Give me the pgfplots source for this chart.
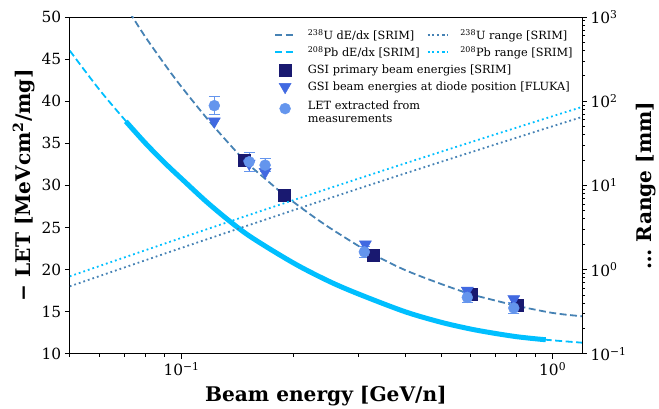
\documentclass[border=0pt]{standalone}
\usepackage{fontspec}
\setmainfont{DejaVu Serif}
\usepackage{pgfplots}
\pgfplotsset{compat=1.18}
\definecolor{steelb}{HTML}{4682B4}
\definecolor{dsky}{HTML}{00BFFF}
\definecolor{mnb}{HTML}{191970}
\definecolor{royb}{HTML}{4169E1}
\definecolor{cfb}{HTML}{6495ED}
\pgfplotsset{
  legend image code/.code={%
    \draw[mark repeat=2,mark phase=2,#1] plot coordinates {(0bp,0bp) (10bp,0bp) (20bp,0bp)};%
  },
}
\begin{document}
\begin{tikzpicture}
\begin{axis}[
  width=514bp, height=338bp, scale only axis,
  xmode=log, xmin=0.05, xmax=1.2,
  tick align=outside,
  major tick length=5bp, minor tick length=3bp,
  tick style={black, line width=0.8bp},
  axis line style={line width=0.8bp},
  tick label style={font=\fontsize{15.5}{18}\selectfont},
  label style={font=\fontsize{20.3}{24}\selectfont\bfseries},
  /pgf/number format/assume math mode=true,
  legend style={draw=none, fill=none, font=\fontsize{11.4}{13.5}\selectfont,
    cells={anchor=west}, row sep=6bp, inner sep=0pt,
    nodes={inner sep=0pt},
    /tikz/every odd column/.style={column sep=12bp}},
  ymin=10, ymax=50, ytick={10,15,20,25,30,35,40,45,50},
  xtick={0.1,1}, xticklabels={10\textsuperscript{−1},10\textsuperscript{0}},
  minor xtick={0.05,0.06,0.07,0.08,0.09,0.2,0.3,0.4,0.5,0.6,0.7,0.8,0.9},
  xtick pos=bottom, ytick pos=left,
  xlabel={Beam energy [GeV/n]},
  ylabel={− LET [MeVcm\textsuperscript{2}/mg]},
  xlabel style={at={(axis description cs:0.5,0)}, anchor=center, yshift=-42bp},
  ylabel style={at={(axis description cs:-0.0895,0.5)}, anchor=center},
  legend style={at={(0.3988,0.964)}, anchor=north west},
]
\addplot[steelb, line width=1.8bp, dash pattern=on 7bp off 3.5bp, smooth] table {
0.070 51.6
0.0738 50.0
0.08 47.6
0.09 44.4
0.10 41.7
0.12 37.4
0.1476 33.0
0.17 30.6
0.19 28.8
0.22 26.7
0.25 25.0
0.30 22.8
0.33 21.75
0.40 19.95
0.50 18.3
0.60 17.1
0.70 16.33
0.80 15.7
0.90 15.23
1.00 14.85
1.10 14.62
1.20 14.46
};
\addlegendentry{\textsuperscript{238}U dE/dx [SRIM]}
\addplot[dsky, line width=1.8bp, dash pattern=on 7bp off 3.5bp, smooth] table {
0.05 46.0
0.06 41.4
0.0703 37.8
0.08 35.0
0.09 32.7
0.10 30.8
0.12 27.6
0.15 24.2
0.20 20.8
0.25 18.6
0.30 17.1
0.40 15.0
0.50 13.75
0.60 12.95
0.70 12.42
0.80 12.03
0.90 11.78
1.00 11.6
1.10 11.45
1.20 11.32
};
\addlegendentry{\textsuperscript{208}Pb dE/dx [SRIM]}
\addplot[dsky, line width=5bp, smooth, forget plot] table {
0.0708 37.6
0.08 35.0
0.09 32.7
0.10 30.8
0.12 27.6
0.15 24.2
0.20 20.8
0.25 18.6
0.30 17.1
0.40 15.0
0.50 13.75
0.60 12.95
0.70 12.42
0.80 12.03
0.90 11.78
0.958 11.67
};
\addplot[only marks, mark=square*, mark size=6bp, mnb, mark options={mnb}] table {
0.1476 33.0
0.1897 28.8
0.329 21.75
0.604 17.1
0.805 15.72
};
\addlegendentry{GSI primary beam energies [SRIM]}
\addplot[only marks, mark=triangle*, mark size=7bp, royb, mark options={royb, rotate=180}] table {
0.1226 37.6
0.1522 32.6
0.168 31.6
0.313 23.0
0.589 17.5
0.786 16.5
};
\addlegendentry{GSI beam energies at diode position [FLUKA]}
\addplot[only marks, mark=*, mark size=5.5bp, cfb, mark options={cfb},
  error bars/.cd, y dir=both, y explicit,
  error bar style={cfb, line width=1bp},
  error mark options={cfb, line width=1bp, mark size=5.5bp, rotate=90}] table[y error index=2] {
0.1226 39.47 1.1
0.1522 32.8 1.1
0.168 32.4 0.8
0.311 22.1 0.7
0.589 16.7 0.6
0.786 15.44 0.6
};
\addlegendentry{\begin{tabular}{@{}l@{}}LET extracted from\\measurements\end{tabular}}
\end{axis}
\begin{axis}[
  width=514bp, height=338bp, scale only axis,
  xmode=log, xmin=0.05, xmax=1.2,
  tick align=outside,
  major tick length=5bp, minor tick length=3bp,
  tick style={black, line width=0.8bp},
  axis line style={line width=0.8bp},
  tick label style={font=\fontsize{15.5}{18}\selectfont},
  label style={font=\fontsize{20.3}{24}\selectfont\bfseries},
  legend style={draw=none, fill=none, font=\fontsize{11.4}{13.5}\selectfont,
    cells={anchor=west}, row sep=6bp, inner sep=0pt,
    nodes={inner sep=0pt},
    /tikz/every odd column/.style={column sep=12bp}},
  ymode=log, ymin=0.1, ymax=1000,
  axis x line=none, axis y line*=right,
  ytick={0.1,1,10,100,1000},
  yticklabels={10\textsuperscript{−1},10\textsuperscript{0},10\textsuperscript{1},10\textsuperscript{2},10\textsuperscript{3}},
  minor ytick={0.2,0.3,0.4,0.5,0.6,0.7,0.8,0.9,2,3,4,5,6,7,8,9,20,30,40,50,60,70,80,90,200,300,400,500,600,700,800,900},
  ylabel={… Range [mm]},
  ylabel style={at={(axis description cs:1.1245,0.5)}, anchor=center},
  legend style={at={(0.6965,0.964)}, anchor=north west},
]
\addplot[steelb, line width=1.8bp, dash pattern=on 1.8bp off 3bp, smooth] table {
0.05 0.632
0.0631 0.901
0.1 1.810
0.1585 3.59
0.2512 7.07
0.3981 13.75
0.631 26.4
1.0 50.4
1.2 64.8
};
\addlegendentry{\textsuperscript{238}U range [SRIM]}
\addplot[dsky, line width=1.8bp, dash pattern=on 1.8bp off 3bp, smooth] table {
0.05 0.831
0.0631 1.186
0.1 2.381
0.1585 4.73
0.2512 9.30
0.3981 18.09
0.631 34.8
1.0 66.3
1.2 85.3
};
\addlegendentry{\textsuperscript{208}Pb range [SRIM]}
\end{axis}
\path (-70bp,-55bp) rectangle (589bp,355bp);
\end{tikzpicture}
\end{document}
